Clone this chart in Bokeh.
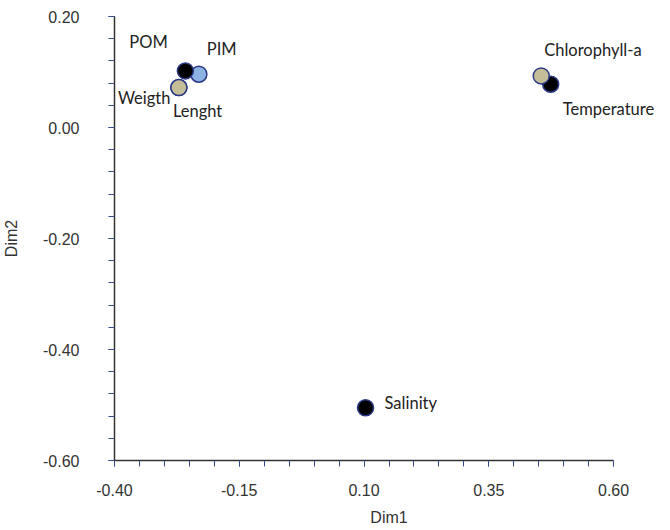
from bokeh.plotting import figure
from bokeh.models import ColumnDataSource, FixedTicker, NumeralTickFormatter, Range1d, LabelSet
from bokeh.embed import file_html
from bokeh.resources import INLINE
from bokeh.core.properties import value

# Data (draw order: back to front)
names = ["Salinity", "Temperature", "PIM", "POM", "Lenght", "Weigth", "Chlorophyll-a"]
dim1 = [0.103, 0.474, -0.231, -0.258, -0.271, -0.271, 0.455]
dim2 = [-0.505, 0.078, 0.096, 0.102, 0.072, 0.072, 0.093]
fills = ["#000000", "#000000", "#8DB3E2", "#000000", "#C4BD97", "#C4BD97", "#C4BD97"]

# label placement (screen px offsets from the point; dy positive = up)
label_dx = [19, 12, 8, -56, -6, -61, 3]
label_dy = [5, -25, 25, 29, -23, -10, 26]

x_major = [-0.40, -0.15, 0.10, 0.35, 0.60]
y_major = [-0.60, -0.40, -0.20, 0.00, 0.20]

src = ColumnDataSource(dict(x=dim1, y=dim2, name=names, fill=fills, dx=label_dx, dy=label_dy))

# x range runs past 0.60 (axis bounded at 0.60) so the labels on the right are not clipped
p = figure(width=664, height=528, output_backend="svg", toolbar_location=None,
           x_range=Range1d(-0.40, 0.70), y_range=Range1d(-0.60, 0.20),
           min_border_left=114, min_border_right=1, min_border_top=16, min_border_bottom=66)
p.outline_line_color = None
p.xgrid.visible = False
p.ygrid.visible = False

p.scatter("x", "y", source=src, size=16, fill_color="fill", line_color="#2B3A86", line_width=1.5)
labels = LabelSet(x="x", y="y", text="name", source=src, x_offset="dx", y_offset="dy",
                  text_font=value("Lato"), text_font_size="16.5px", text_color="#222222",
                  text_align="left", text_baseline="middle")
p.add_layout(labels)

xminor = [round(-0.40 + 0.05 * i, 2) for i in range(21)]
yminor = [round(-0.60 + 0.04 * i, 2) for i in range(21)]
p.xaxis.ticker = FixedTicker(ticks=x_major, minor_ticks=xminor)
p.yaxis.ticker = FixedTicker(ticks=y_major, minor_ticks=yminor)
p.xaxis.bounds = (-0.40, 0.60)
for ax in (p.xaxis, p.yaxis):
    ax.formatter = NumeralTickFormatter(format="0.00")
    ax.axis_line_color = "#333333"
    ax.axis_line_width = 1.5
    ax.major_tick_line_color = "#3B4A8A"
    ax.minor_tick_line_color = "#3B4A8A"
    ax.major_tick_in = 0
    ax.minor_tick_in = 0
    ax.major_tick_out = 6
    ax.minor_tick_out = 6
    ax.major_label_text_font = "Liberation Sans"
    ax.major_label_text_font_size = "16px"
    ax.major_label_text_color = "#333333"
    ax.axis_label_text_font = "Liberation Sans"
    ax.axis_label_text_font_size = "16px"
    ax.axis_label_text_font_style = "normal"
    ax.axis_label_text_color = "#333333"

p.xaxis.axis_label = "Dim1"
p.yaxis.axis_label = "Dim2"
p.xaxis.major_label_standoff = 17
p.xaxis.axis_label_standoff = 10
p.yaxis.major_label_standoff = 29
p.yaxis.axis_label_standoff = 20

open("out.html", "w").write(file_html(p, INLINE))
